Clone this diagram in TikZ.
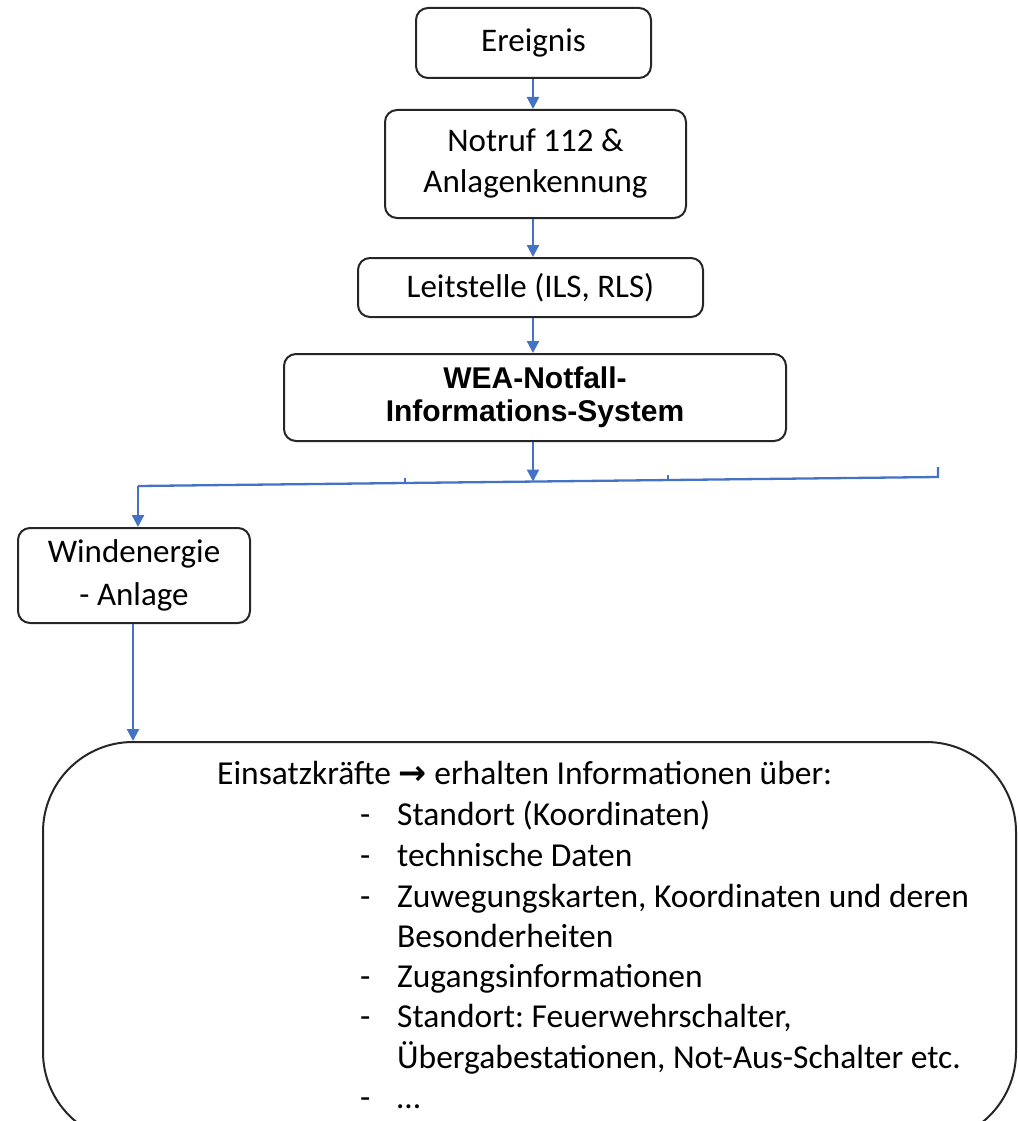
\documentclass[tikz,border=0pt]{standalone}
\usepackage{fontspec}
\setmainfont{Carlito}
\newfontfamily\arialb{Liberation Sans}
\newfontfamily\symf{DejaVu Sans}
\usetikzlibrary{arrows.meta}
\definecolor{conblue}{HTML}{4472C4}
\definecolor{boxline}{HTML}{262626}
\frenchspacing
\begin{document}
\begin{tikzpicture}[x=1pt,y=-1pt,
  box/.style={draw=boxline, line width=2pt, rounded corners=12pt, inner sep=0pt, align=center},
  bigbox/.style={draw=boxline, line width=2pt, rounded corners=90pt, inner sep=0pt},
  lbl/.style={font=\fontsize{33}{41}\selectfont},
  wealbl/.style={font=\arialb\bfseries\fontsize{30}{33}\selectfont},
  listtxt/.style={font=\fontsize{33.5}{41}\selectfont, anchor=base west, inner sep=0pt},
  conn/.style={draw=conblue, line width=2.3pt, -{Triangle[length=12pt,width=12pt]}},
  line/.style={draw=conblue, line width=2.3pt}]
\useasboundingbox (0,0) rectangle (1017,1121);
\clip (0,0) rectangle (1017,1121);

\node[box, lbl, minimum width=235pt, minimum height=70pt] (ereignis) at (533.5,43) {Ereignis};
\node[box, lbl, minimum width=301pt, minimum height=108pt] (notruf) at (535.5,164) {Notruf 112 \&\\Anlagenkennung};
\node[box, lbl, minimum width=345pt, minimum height=59pt] (leit) at (530.5,287.5) {Leitstelle (ILS, RLS)};
\node[box, wealbl, minimum width=502pt, minimum height=87pt] (wea) at (535,397.5) {WEA-Notfall-\\Informations-System};
\node[box, lbl, minimum width=232pt, minimum height=95pt, font=\fontsize{33}{43}\selectfont] (wind) at (134,575.5) {Windenergie\\- Anlage};
\node[bigbox, minimum width=973pt, minimum height=400pt, anchor=north west] (info) at (42,741) {};

\coordinate (bl) at (138,486);
\coordinate (bm) at (533,481.5);
\coordinate (br) at (938,477);
\coordinate (t1) at (405,483);
\coordinate (t2) at (668,480);

\draw[conn] (ereignis.south -| 533,0) -- (533,0 |- notruf.north);
\draw[conn] (notruf.south -| 533,0) -- (533,0 |- leit.north);
\draw[conn] (leit.south -| 533,0) -- (533,0 |- wea.north);
\draw[conn] (wea.south -| bm) -- (bm);
\draw[line] ([yshift=10pt]br) -- (br) -- (bl);
\draw[line] (t1) -- ([yshift=5pt]t1);
\draw[line] (t2) -- ([yshift=5pt]t2);
\draw[conn] (bl) -- (bl |- wind.north);
\draw[conn] (wind.south -| 133,0) -- (133,0 |- info.north);

\node[listtxt] (head) at (217,784) {Einsatzkräfte {\symf\bfseries →} erhalten Informationen über:};
\foreach \y/\b/\t [count=\i] in {
  825/-/Standort (Koordinaten),
  866/-/technische Daten,
  907/-/{Zuwegungskarten, Koordinaten und deren},
  947//Besonderheiten,
  987/-/Zugangsinformationen,
  1027/-/{Standort: Feuerwehrschalter,},
  1068//{Übergabestationen, Not-Aus-Schalter etc.},
  1108/-/…}{
  \node[listtxt] (b\i) at (360,\y) {\b};
  \node[listtxt] (l\i) at (397,\y) {\t};
}
\end{tikzpicture}
\end{document}
